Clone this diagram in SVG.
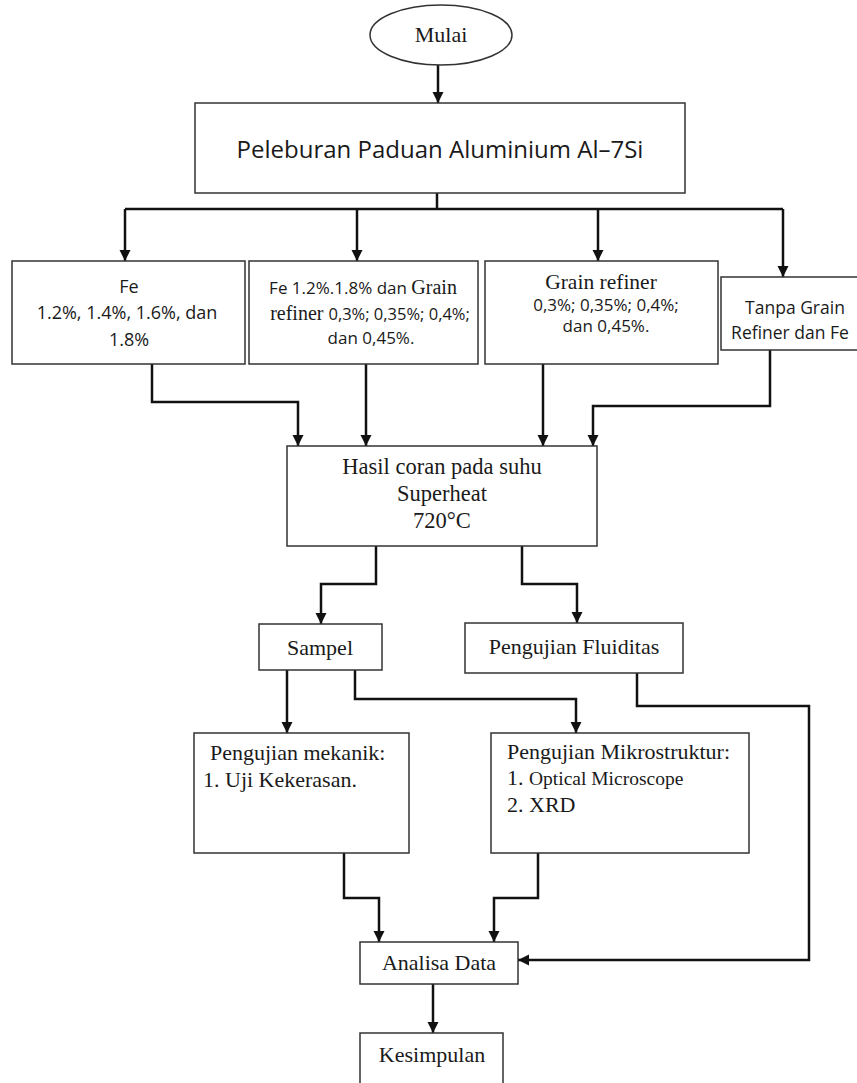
<svg xmlns="http://www.w3.org/2000/svg" width="857" height="1083" viewBox="0 0 857 1083">
<style>
.box{fill:#fff;stroke:#333;stroke-width:1.5}
.c{fill:none;stroke:#111;stroke-width:2.5;marker-end:url(#ah)}
.serif{font-family:"Liberation Serif","Times New Roman",serif;fill:#1a1a1a}
.sans{font-family:"Open Sans","Noto Sans",sans-serif;fill:#1a1a1a}
.m{text-anchor:middle}
</style>
<defs>
<marker id="ah" markerUnits="userSpaceOnUse" markerWidth="12" markerHeight="12" refX="11" refY="6" orient="auto">
<path d="M0,0.5 L11,6 L0,11.5 z" fill="#111"/>
</marker>
</defs>
<rect width="857" height="1083" fill="#fff"/>
<g id="connectors">
<path class="c" d="M438,65 V103"/>
<path d="M437,193 V209 M125,209 H783" fill="none" stroke="#111" stroke-width="2.5"/>
<path class="c" d="M125,209 V261"/>
<path class="c" d="M357,209 V261"/>
<path class="c" d="M598,209 V261"/>
<path class="c" d="M783,209 V277"/>
<path class="c" d="M152,364 V402 H298 V446"/>
<path class="c" d="M366,364 V446"/>
<path class="c" d="M543,364 V446"/>
<path class="c" d="M770,350 V406 H593 V446"/>
<path class="c" d="M376,546 V584 H321 V624"/>
<path class="c" d="M522,546 V584 H577 V623"/>
<path class="c" d="M287,670 V733"/>
<path class="c" d="M355,670 V699 H576 V733"/>
<path class="c" d="M637,673 V706 H809 V960 H518"/>
<path class="c" d="M344,853 V898 H379 V942"/>
<path class="c" d="M538,853 V898 H494 V942"/>
<path class="c" d="M433,984 V1033"/>
</g>
<g id="mulai">
<ellipse cx="441" cy="35" rx="71" ry="30" class="box"/>
<text x="441" y="42" class="serif m" font-size="22">Mulai</text>
</g>
<g id="peleburan">
<rect x="195" y="103" width="490" height="90" class="box"/>
<text x="440" y="158" class="sans m" font-size="24">Peleburan Paduan Aluminium Al–7Si</text>
</g>
<g id="fe">
<rect x="12" y="261" width="233" height="103" class="box"/>
<text x="129" y="293" class="sans m" font-size="18">Fe</text>
<text x="127" y="319" class="sans m" font-size="18">1.2%, 1.4%, 1.6%, dan</text>
<text x="129" y="346" class="sans m" font-size="18">1.8%</text>
</g>
<g id="fe-grain">
<rect x="249" y="261" width="229" height="103" class="box"/>
<text x="363" y="294" class="m"><tspan class="sans" font-size="17">Fe 1.2%.1.8% dan </tspan><tspan class="serif" font-size="20">Grain</tspan></text>
<text x="370" y="320" class="m"><tspan class="serif" font-size="20">refiner </tspan><tspan class="sans" font-size="16.5">0,3%; 0,35%; 0,4%;</tspan></text>
<text x="371" y="344" class="sans m" font-size="17">dan 0,45%.</text>
</g>
<g id="grain">
<rect x="485" y="261" width="233" height="103" class="box"/>
<text x="601" y="289" class="serif m" font-size="21.5">Grain refiner</text>
<text x="606" y="311" class="sans m" font-size="17">0,3%; 0,35%; 0,4%;</text>
<text x="606" y="332" class="sans m" font-size="17">dan 0,45%.</text>
</g>
<g id="tanpa">
<rect x="721" y="277" width="140" height="73" class="box"/>
<text x="795" y="314" class="sans m" font-size="17.5">Tanpa Grain</text>
<text x="790" y="339" class="sans m" font-size="17.5">Refiner dan Fe</text>
</g>
<g id="hasil">
<rect x="287" y="446" width="310" height="100" class="box"/>
<text x="442" y="474" class="serif m" font-size="22.5">Hasil coran pada suhu</text>
<text x="442" y="501" class="serif m" font-size="22.5">Superheat</text>
<text x="442" y="528" class="serif m" font-size="22.5">720°C</text>
</g>
<g id="sampel">
<rect x="259" y="624" width="123" height="46" class="box"/>
<text x="320" y="655" class="serif m" font-size="22">Sampel</text>
</g>
<g id="fluiditas">
<rect x="465" y="623" width="218" height="50" class="box"/>
<text x="574" y="654" class="serif m" font-size="22">Pengujian Fluiditas</text>
</g>
<g id="mekanik">
<rect x="194" y="733" width="215" height="120" class="box"/>
<text x="210" y="760" class="serif" font-size="22">Pengujian mekanik:</text>
<text x="203" y="787" class="serif" font-size="22">1. Uji Kekerasan.</text>
</g>
<g id="mikro">
<rect x="491" y="733" width="258" height="120" class="box"/>
<text x="507" y="759" class="serif" font-size="22">Pengujian Mikrostruktur:</text>
<text x="507" y="785" class="serif" font-size="22">1. <tspan font-size="19.5">Optical Microscope</tspan></text>
<text x="507" y="812" class="serif" font-size="22">2. XRD</text>
</g>
<g id="analisa">
<rect x="360" y="942" width="158" height="42" class="box"/>
<text x="439" y="970" class="serif m" font-size="22">Analisa Data</text>
</g>
<g id="kesimpulan">
<rect x="360" y="1033" width="143" height="60" class="box"/>
<text x="432" y="1062" class="serif m" font-size="22">Kesimpulan</text>
</g>
</svg>
